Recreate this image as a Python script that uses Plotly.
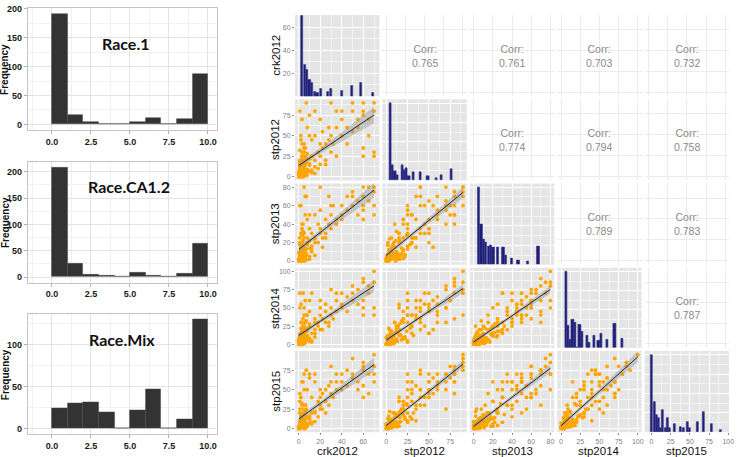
import numpy as np
import plotly.graph_objects as go

W, H = 740, 457

# ---------------- left panels: race score histograms ----------------
race_bin_left = [0, 1, 2, 3, 4, 5, 6, 7, 8, 9]
race1_counts = [192, 16, 4, 1, 1, 4, 11, 0, 9, 87]
race_ca12_counts = [209, 26, 4, 2, 0, 9, 2, 0, 7, 64]
race_mix_counts = [25, 30, 31, 20, 1, 22, 47, 1, 11, 130]
race_titles = ["Race.1", "Race.CA1.2", "Race.Mix"]
race_xtick_vals = [0, 2.5, 5, 7.5, 10]
race_xtick_text = ["0.0", "2.5", "5.0", "7.5", "10.0"]
race_ytick_vals = [[0, 50, 100, 150, 200], [0, 50, 100, 150, 200], [0, 50, 100]]

# ---------------- right panels: pairs matrix ----------------
var_names = ["crk2012", "stp2012", "stp2013", "stp2014", "stp2015"]

crk2012 = [1, 2, 3, 4, 5, 2, 3, 1, 6, 4,
           2, 5, 3, 7, 1, 4, 6, 2, 8, 3,
           5, 1, 7, 4, 2, 6, 3, 8, 5, 1,
           10, 4, 2, 3, 5, 1, 6, 2, 7, 4,
           3, 5, 2, 6, 8, 1, 4, 7, 3, 10,
           12, 10, 12, 15, 8, 10, 12, 15, 5, 3,
           2, 4, 6, 1, 5, 3, 8, 2, 6, 4,
           10, 1, 7, 10, 5, 15, 18, 20, 20, 22,
           25, 25, 28, 30, 30, 32, 35, 35, 15, 20,
           18, 22, 25, 28, 12, 15, 20, 30, 35, 40,
           40, 40, 45, 45, 50, 50, 50, 55, 55, 60,
           60, 60, 60, 60, 65, 65, 70, 70, 70, 70,
           0, 1, 2, 0, 1, 3, 0, 2, 4, 1,
           0, 5, 2, 3, 6, 1, 0, 4, 2, 5]
stp2012 = [2, 5, 3, 8, 4, 10, 6, 12, 3, 15,
           7, 10, 13, 5, 17, 2, 14, 20, 9, 4,
           18, 8, 22, 11, 3, 16, 25, 6, 12, 20,
           7, 1, 4, 9, 2, 5, 8, 1, 3, 6,
           30, 15, 10, 20, 28, 32, 12, 18, 24, 16,
           5, 22, 8, 12, 2, 14, 25, 4, 35, 40,
           50, 20, 25, 15, 30, 70, 60, 45, 35, 25,
           50, 80, 90, 75, 40, 20, 30, 25, 15, 35,
           40, 20, 45, 30, 50, 40, 25, 60, 50, 70,
           10, 55, 15, 60, 45, 80, 40, 90, 80, 50,
           70, 80, 60, 40, 55, 80, 90, 60, 70, 90,
           80, 75, 35, 25, 70, 50, 90, 80, 30, 25,
           0, 1, 2, 3, 0, 1, 2, 0, 3, 4,
           6, 1, 5, 7, 2, 9, 4, 0, 11, 6]
stp2013 = [3, 4, 5, 6, 2, 8, 10, 5, 12, 7,
           15, 3, 9, 13, 6, 17, 4, 11, 20, 8,
           14, 18, 7, 22, 12, 2, 16, 25, 10, 3,
           14, 6, 1, 4, 7, 2, 9, 4, 1, 3,
           20, 30, 15, 12, 18, 25, 32, 8, 28, 22,
           10, 5, 16, 6, 20, 2, 13, 24, 15, 35,
           30, 40, 50, 20, 25, 40, 45, 60, 70, 30,
           35, 60, 70, 50, 80, 25, 20, 35, 30, 25,
           30, 45, 40, 50, 35, 60, 40, 45, 20, 55,
           40, 15, 25, 70, 30, 50, 80, 60, 40, 45,
           60, 50, 55, 70, 60, 70, 75, 50, 65, 80,
           70, 60, 45, 55, 80, 65, 80, 75, 50, 60,
           0, 2, 1, 0, 3, 2, 1, 0, 4, 5,
           2, 0, 6, 3, 5, 7, 9, 1, 0, 11]
stp2014 = [2, 6, 4, 5, 8, 3, 10, 7, 5, 12,
           6, 15, 4, 9, 13, 3, 17, 8, 11, 20,
           6, 14, 10, 16, 22, 12, 5, 18, 25, 9,
           4, 11, 7, 1, 3, 5, 2, 9, 6, 4,
           15, 20, 30, 8, 22, 12, 25, 32, 18, 28,
           15, 8, 5, 20, 12, 25, 3, 10, 40, 20,
           15, 35, 30, 50, 25, 30, 40, 55, 60, 70,
           45, 70, 40, 60, 50, 30, 25, 40, 20, 35,
           30, 45, 25, 40, 50, 35, 60, 45, 15, 50,
           30, 20, 55, 30, 70, 35, 60, 75, 70, 55,
           50, 70, 65, 45, 60, 80, 70, 55, 75, 85,
           90, 60, 50, 40, 80, 70, 100, 85, 40, 50,
           0, 1, 3, 2, 0, 1, 4, 1, 0, 3,
           5, 2, 0, 6, 4, 2, 7, 9, 5, 1]
stp2015 = [1, 3, 2, 4, 6, 5, 8, 2, 10, 3,
           12, 7, 15, 4, 9, 13, 5, 17, 6, 11,
           20, 3, 14, 8, 16, 22, 10, 4, 18, 25,
           7, 2, 5, 3, 1, 8, 4, 6, 2, 9,
           12, 8, 20, 30, 15, 20, 18, 25, 32, 14,
           6, 12, 20, 9, 3, 16, 8, 22, 10, 30,
           40, 25, 20, 35, 50, 60, 50, 40, 30, 60,
           70, 45, 75, 65, 70, 20, 35, 30, 40, 25,
           50, 35, 30, 45, 60, 40, 50, 70, 60, 25,
           15, 45, 20, 55, 40, 70, 50, 80, 60, 50,
           70, 60, 55, 75, 65, 70, 90, 60, 50, 85,
           75, 80, 55, 40, 70, 45, 95, 80, 60, 70,
           0, 0, 1, 2, 1, 3, 0, 4, 2, 5,
           1, 0, 7, 2, 0, 4, 3, 6, 9, 1]
pair_data = [crk2012, stp2012, stp2013, stp2014, stp2015]

# diagonal histograms (bin centres, counts, bin width)
crk2012_hist_x = [3.0, 5.6, 7.8, 10.0, 12.3, 15.0, 17.4, 20.6, 27.4, 29.8, 40.4, 49.4, 58.0, 69.0]
crk2012_hist_y = [70, 27, 23, 14, 12, 4, 3, 7, 4, 7, 5, 9, 12, 3]
stp2012_hist_x = [4.6, 7.5, 10.2, 12.9, 18.7, 21.4, 24.0, 26.7, 32.1, 40.2, 48.7, 59.2, 64.8, 76.0]
stp2012_hist_y = [100, 20, 11.5, 7, 20, 13, 16, 6, 11, 11, 5, 3, 7, 15]
stp2013_hist_x = [5.4, 8.0, 10.5, 13.0, 15.5, 18.0, 20.4, 25.5, 31.0, 33.4, 39.6, 46.7, 56.8, 67.5]
stp2013_hist_y = [100, 52, 33, 29, 23, 25, 22, 22, 22, 12, 8.5, 6, 4, 23]
stp2014_hist_x = [6.4, 9.4, 12.2, 15.2, 18.4, 21.4, 24.4, 27.8, 33.9, 37.1, 43.1, 49.1, 52.2, 60.5, 70.1, 79.3]
stp2014_hist_y = [100, 29, 10.7, 37.5, 33, 1, 30, 21.8, 16, 7, 16, 9, 18.3, 10.7, 32, 12]
stp2015_hist_x = [0.7, 3.4, 6.0, 8.8, 11.5, 15.0, 18.4, 21.4, 24.0, 29.5, 38.5, 41.5, 46.8, 49.8, 59.8, 68.4, 77.8, 90.1]
stp2015_hist_y = [100, 39, 22, 18.7, 5, 28.5, 6, 19, 5, 10.7, 7.2, 6, 12.8, 6, 13.6, 25.6, 10.7, 3]
hist_x = [crk2012_hist_x, stp2012_hist_x, stp2013_hist_x, stp2014_hist_x, stp2015_hist_x]
hist_y = [crk2012_hist_y, stp2012_hist_y, stp2013_hist_y, stp2014_hist_y, stp2015_hist_y]
hist_width = [2.3, 2.7, 2.4, 3.0, 2.6]

corr_values = {(0, 1): "0.765", (0, 2): "0.761", (0, 3): "0.703", (0, 4): "0.732",
               (1, 2): "0.774", (1, 3): "0.794", (1, 4): "0.758",
               (2, 3): "0.789", (2, 4): "0.783",
               (3, 4): "0.787"}

var_ticks = [[0, 20, 40, 60], [0, 25, 50, 75], [0, 20, 40, 60, 80],
             [0, 25, 50, 75, 100], [0, 25, 50, 75]]
var_minor = [10, 12.5, 10, 12.5, 12.5]
crk_count_ticks = [20, 40, 60]
stp2015_hist_ticks = [0, 25, 50, 75, 100]

# ---------------- layout geometry ----------------
var_range = [[-3.5, 75], [-4.5, 94.5], [-4, 84], [-5, 105], [-4.75, 99.75]]
col_px = [(297, 382), (385, 470), (473, 558), (561, 646), (649, 734)]
row_px = [(11, 93), (96, 178), (181, 263), (266, 347), (350, 432)]

layout = dict(width=W, height=H, margin=dict(l=0, r=0, t=0, b=0, pad=0), autosize=False,
              paper_bgcolor="white", plot_bgcolor="rgba(0,0,0,0)",
              showlegend=False, bargap=0)
shapes, annotations, traces = [], [], []
counter = [0]


def new_axes(x0, x1, y0, y1, xa, ya):
    counter[0] += 1
    n = counter[0]
    s = "" if n == 1 else str(n)
    layout["xaxis" + s] = dict(domain=[x0 / W, x1 / W], anchor="y" + s, fixedrange=True,
                               zeroline=False, **xa)
    layout["yaxis" + s] = dict(domain=[1 - y1 / H, 1 - y0 / H], anchor="x" + s, fixedrange=True,
                               zeroline=False, **ya)
    return "x" + s, "y" + s


def minor_vals(rng, step):
    k0 = int(np.floor(rng[0] / step))
    k1 = int(np.ceil(rng[1] / step))
    return [k * step for k in range(k0, k1 + 1) if k % 2 != 0]


def paper_text(px, py, text, font, angle=0):
    return dict(x=px / W, y=1 - py / H, xref="paper", yref="paper", text=text,
                showarrow=False, xanchor="center", yanchor="middle", textangle=angle, font=font)


# ---- left panels ----
left_rows = [(4, 127), (159, 281), (313, 434)]
left_counts = [race1_counts, race_ca12_counts, race_mix_counts]
left_title_pos = [(126, 40), (130, 184), (123, 338)]
bold9 = dict(family="Liberation Sans, Arial", size=9, color="#1a1a1a", weight="bold")
for i in range(3):
    cnt = left_counts[i]
    mx = max(cnt)
    yr = [-0.05 * mx, 1.05 * mx]
    xr = [-1.55, 10.55]
    xa = dict(range=xr, tickvals=race_xtick_vals, ticktext=race_xtick_text,
              showgrid=True, gridcolor="#E3E3E3", gridwidth=1,
              minor=dict(tickvals=[-1.25, 1.25, 3.75, 6.25, 8.75], showgrid=True,
                         gridcolor="#F1F1F1", gridwidth=0.6, ticks=""),
              showline=True, mirror=True, linecolor="#C4C4C4", linewidth=1,
              ticks="outside", ticklen=3, tickcolor="#B0B0B0", tickfont=bold9)
    ya = dict(range=yr, tickvals=race_ytick_vals[i],
              showgrid=True, gridcolor="#E3E3E3", gridwidth=1,
              minor=dict(tickvals=[25, 75, 125, 175], showgrid=True,
                         gridcolor="#F1F1F1", gridwidth=0.6, ticks=""),
              showline=True, mirror=True, linecolor="#C4C4C4", linewidth=1,
              ticks="outside", ticklen=3, tickcolor="#B0B0B0", tickfont=bold9)
    xn, yn = new_axes(28, 218, left_rows[i][0], left_rows[i][1], xa, ya)
    traces.append(go.Bar(x=[b + 0.5 for b in race_bin_left], y=cnt, width=1,
                         marker=dict(color="#333333", line=dict(color="#4a4a4a", width=0.5)),
                         xaxis=xn, yaxis=yn, hoverinfo="skip"))
    tx, ty = left_title_pos[i]
    annotations.append(paper_text(tx, ty, race_titles[i],
                                  dict(family="Lato", size=16, color="#111111", weight="bold")))
    annotations.append(paper_text(5, (left_rows[i][0] + left_rows[i][1]) / 2, "Frequency",
                                  dict(family="Liberation Sans, Arial", size=10,
                                       color="#111111", weight="bold"), angle=-90))

# ---- right pairs matrix ----
tickfont_r = dict(family="Liberation Sans, Arial", size=7, color="#7F7F7F")
for r in range(5):
    for c in range(5):
        x0, x1 = col_px[c]
        y0, y1 = row_px[r]
        show_x = (r == 4)
        show_y = (c == 0)
        if c > r:  # correlation panel
            xa = dict(range=[-0.05, 1.05], dtick=0.25, tick0=0, showgrid=True, gridcolor="#EBEBEB",
                      gridwidth=1, showticklabels=False, ticks="")
            ya = dict(range=[-0.2, 3.7], dtick=1, tick0=0, showgrid=True, gridcolor="#EBEBEB",
                      gridwidth=1, showticklabels=False, ticks="")
            xn, yn = new_axes(x0, x1, y0, y1, xa, ya)
            # invisible point so that the subplot is drawn
            traces.append(go.Scatter(x=[0.5], y=[1.75], mode="markers",
                                     marker=dict(size=1, opacity=0), xaxis=xn, yaxis=yn,
                                     hoverinfo="skip"))
            annotations.append(dict(x=0.5, y=0.5, xref=xn + " domain", yref=yn + " domain",
                                    text="Corr:<br>" + corr_values[(r, c)], showarrow=False,
                                    align="center", xanchor="center", yanchor="middle",
                                    font=dict(family="Liberation Sans, Arial", size=10.5,
                                              color="#8A8A8A")))
            continue
        if c == 4:
            xr = [-9, 101]
            xt = stp2015_hist_ticks
        else:
            xr = var_range[c]
            xt = var_ticks[c]
        xa = dict(range=xr, tickvals=xt, showgrid=True, gridcolor="white", gridwidth=1.1,
                  minor=dict(tickvals=minor_vals(xr, var_minor[c]), showgrid=True,
                             gridcolor="#F3F3F3", gridwidth=0.5, ticks=""),
                  showticklabels=show_x, ticks="outside" if show_x else "",
                  ticklen=2, tickcolor="#8A8A8A", tickfont=tickfont_r)
        if r == c:
            if r == 0:
                yr = [0.3, 70.5]
                yt = crk_count_ticks
                ymin = 10
            else:
                yr = [0, 1.05 * max(hist_y[r])]
                yt = [0, 25, 50, 75, 100]
                ymin = 12.5
        else:
            yr = var_range[r]
            yt = var_ticks[r]
            ymin = var_minor[r]
        ya = dict(range=yr, tickvals=yt, showgrid=True, gridcolor="white", gridwidth=1.1,
                  minor=dict(tickvals=minor_vals(yr, ymin), showgrid=True,
                             gridcolor="#F3F3F3", gridwidth=0.5, ticks=""),
                  showticklabels=show_y, ticks="outside" if show_y else "",
                  ticklen=2, tickcolor="#8A8A8A", tickfont=tickfont_r)
        xn, yn = new_axes(x0, x1, y0, y1, xa, ya)
        shapes.append(dict(type="rect", xref=xn + " domain", yref=yn + " domain",
                           x0=0, x1=1, y0=0, y1=1, fillcolor="#E5E5E5",
                           line=dict(width=0), layer="below"))
        if r == c:
            traces.append(go.Bar(x=hist_x[r], y=hist_y[r], width=hist_width[r],
                                 marker=dict(color="#1E1E78", line=dict(color="#3A3A8C", width=0.6)),
                                 xaxis=xn, yaxis=yn, hoverinfo="skip"))
        else:
            xs = np.array(pair_data[c], dtype=float)
            ys = np.array(pair_data[r], dtype=float)
            traces.append(go.Scatter(x=xs, y=ys, mode="markers", xaxis=xn, yaxis=yn,
                                     marker=dict(color="#FFA500", size=3.8, line=dict(width=0)),
                                     hoverinfo="skip"))
            # linear fit with 95% band
            b, a = np.polyfit(xs, ys, 1)
            n = len(xs)
            resid = ys - (a + b * xs)
            s = np.sqrt(np.sum(resid ** 2) / (n - 2))
            xm = xs.mean()
            sxx = np.sum((xs - xm) ** 2)
            gx = np.linspace(xs.min(), xs.max(), 60)
            gy = a + b * gx
            se = s * np.sqrt(1.0 / n + (gx - xm) ** 2 / sxx)
            up, lo = gy + 1.98 * se, gy - 1.98 * se
            traces.append(go.Scatter(x=np.concatenate([gx, gx[::-1]]),
                                     y=np.concatenate([up, lo[::-1]]),
                                     fill="toself", fillcolor="rgba(150,150,150,0.45)",
                                     line=dict(width=0), mode="lines", xaxis=xn, yaxis=yn,
                                     hoverinfo="skip"))
            traces.append(go.Scatter(x=gx, y=gy, mode="lines", line=dict(color="#222222", width=1),
                                     xaxis=xn, yaxis=yn, hoverinfo="skip"))

# axis titles of the matrix
title_font = dict(family="Liberation Sans, Arial", size=11.5, color="#111111")
for c in range(5):
    annotations.append(paper_text((col_px[c][0] + col_px[c][1]) / 2, 451, var_names[c], title_font))
for r in range(5):
    annotations.append(paper_text(277, (row_px[r][0] + row_px[r][1]) / 2, var_names[r],
                                  title_font, angle=-90))

layout["shapes"] = shapes
layout["annotations"] = annotations
fig = go.Figure(data=traces, layout=layout)
fig.write_html("out.html", config={"displayModeBar": False},
               post_script="document.body.style.margin='0px';document.body.style.padding='0px';")
